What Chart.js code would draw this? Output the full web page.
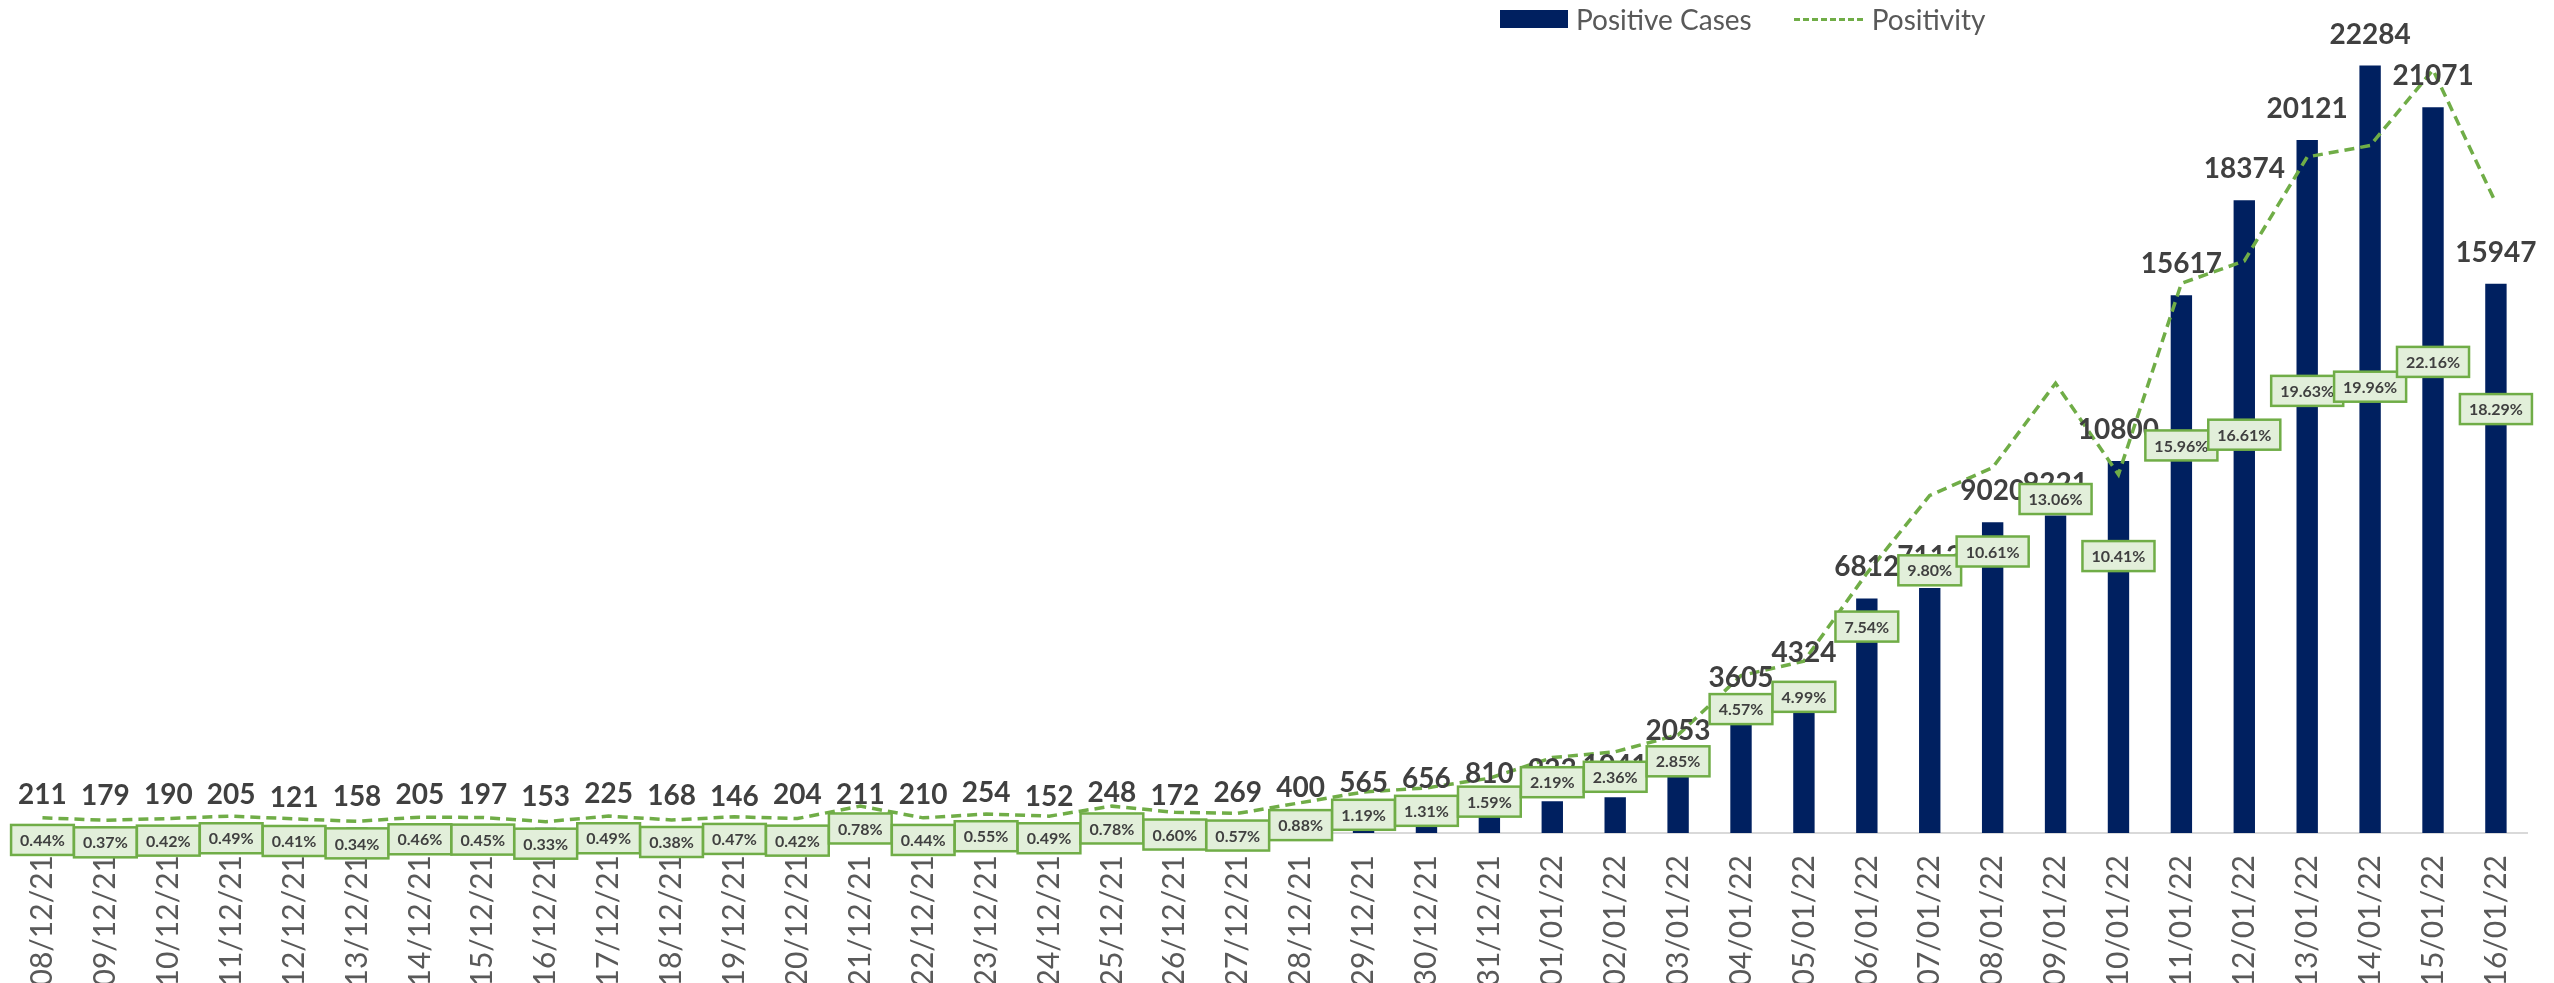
<!DOCTYPE html>
<html>
<head>
<meta charset="utf-8">
<script src="https://cdn.jsdelivr.net/npm/chart.js@4.4.1/dist/chart.umd.min.js"></script>
<style>
  html, body { margin: 0; padding: 0; background: #fff; overflow: hidden; }
  body { width: 2554px; height: 983px; position: relative; font-family: Lato, sans-serif; }
  #wrap { position: absolute; left: 0; top: -28px; width: 2554px; height: 1040px; }
  #legend { position: absolute; left: 1500px; top: 0; height: 38px; display: flex; align-items: center; color: #595959; font-size: 28px; }
  .box { width: 68px; height: 18px; background: #002060; margin-right: 8px; }
  .dash { width: 69px; height: 0; border-top: 3px dashed #70AD47; margin: 0 9px 0 42px; }
</style>
</head>
<body>
<div id="wrap"><canvas id="chart"></canvas></div>
<div id="legend">
  <span class="box"></span><span>Positive Cases</span>
  <span class="dash"></span><span>Positivity</span>
</div>
<script>
const dates = [
  "08/12/21", "09/12/21", "10/12/21", "11/12/21", "12/12/21", "13/12/21", "14/12/21", "15/12/21",
  "16/12/21", "17/12/21", "18/12/21", "19/12/21", "20/12/21", "21/12/21", "22/12/21", "23/12/21",
  "24/12/21", "25/12/21", "26/12/21", "27/12/21", "28/12/21", "29/12/21", "30/12/21", "31/12/21",
  "01/01/22", "02/01/22", "03/01/22", "04/01/22", "05/01/22", "06/01/22", "07/01/22", "08/01/22",
  "09/01/22", "10/01/22", "11/01/22", "12/01/22", "13/01/22", "14/01/22", "15/01/22", "16/01/22"
];

const positive_cases = [
  211, 179, 190, 205, 121, 158, 205, 197,
  153, 225, 168, 146, 204, 211, 210, 254,
  152, 248, 172, 269, 400, 565, 656, 810,
  923, 1041, 2053, 3605, 4324, 6812, 7113, 9020,
  9221, 10800, 15617, 18374, 20121, 22284, 21071, 15947
];

// percent
const positivity = [
  0.44, 0.37, 0.42, 0.49, 0.41, 0.34, 0.46, 0.45,
  0.33, 0.49, 0.38, 0.47, 0.42, 0.78, 0.44, 0.55,
  0.49, 0.78, 0.60, 0.57, 0.88, 1.19, 1.31, 1.59,
  2.19, 2.36, 2.85, 4.57, 4.99, 7.54, 9.80, 10.61,
  13.06, 10.41, 15.96, 16.61, 19.63, 19.96, 22.16, 18.29
];

const navy = "#002060";
const green = "#70AD47";
const label_grey = "#404040";

// value labels on top of the bars and boxed labels for the positivity line
const value_labels = {
  id: "value_labels",
  afterDatasetsDraw(chart) {
    const ctx = chart.ctx;
    ctx.save();

    const bar_meta = chart.getDatasetMeta(0);
    ctx.font = "bold 28px Lato";
    ctx.fillStyle = label_grey;
    ctx.textAlign = "center";
    ctx.textBaseline = "alphabetic";
    bar_meta.data.forEach((bar, i) => {
      ctx.fillText(String(positive_cases[i]), bar.x, bar.y - 22);
    });

    const line_meta = chart.getDatasetMeta(1);
    ctx.font = "bold 16px Lato";
    ctx.textBaseline = "middle";
    line_meta.data.forEach((pt, i) => {
      const v = positivity[i];
      const text = v.toFixed(2) + "%";
      const w = ctx.measureText(text).width + 18;
      const h = 30;
      // labels drift further below the line as the values grow
      const cy = pt.y + 22 + 0.55 * v * v;
      ctx.fillStyle = "#E2EFDA";
      ctx.fillRect(pt.x - w / 2, cy - h / 2, w, h);
      ctx.strokeStyle = green;
      ctx.lineWidth = 2.5;
      ctx.strokeRect(pt.x - w / 2, cy - h / 2, w, h);
      ctx.fillStyle = label_grey;
      ctx.fillText(text, pt.x, cy + 1);
    });
    ctx.restore();
  }
};

const ctx = document.getElementById("chart");

let chart = new Chart(ctx, {
  type: "bar",
  data: {
    labels: dates,
    datasets: [
      {
        label: "Positive Cases",
        data: positive_cases,
        backgroundColor: navy,
        yAxisID: "y",
        order: 1,
        barPercentage: 0.34,
        categoryPercentage: 1
      },
      {
        type: "line",
        label: "Positivity",
        data: positivity,
        borderColor: green,
        borderWidth: 3.5,
        borderDash: [10, 6],
        pointRadius: 0,
        tension: 0,
        fill: false,
        yAxisID: "y1",
        order: 0
      }
    ]
  },
  options: {
    responsive: true,
    maintainAspectRatio: false,
    animation: false,
    layout: { padding: { left: 11, right: 6, top: 0, bottom: 0 } },
    plugins: {
      legend: { display: false },
      tooltip: { enabled: false }
    },
    scales: {
      x: {
        grid: { display: false, drawTicks: false },
        border: { display: true, color: "#D9D9D9", width: 2 },
        ticks: {
          autoSkip: false,
          minRotation: 90,
          maxRotation: 90,
          padding: 22,
          color: "#595959",
          font: { family: "Lato", size: 30 }
        },
        afterFit(scale) { scale.height = 179; }
      },
      y: { display: false, min: 0, max: 25000 },
      y1: { display: false, min: 0, max: 25, position: "right" }
    }
  },
  plugins: [value_labels]
});
</script>
</body>
</html>
